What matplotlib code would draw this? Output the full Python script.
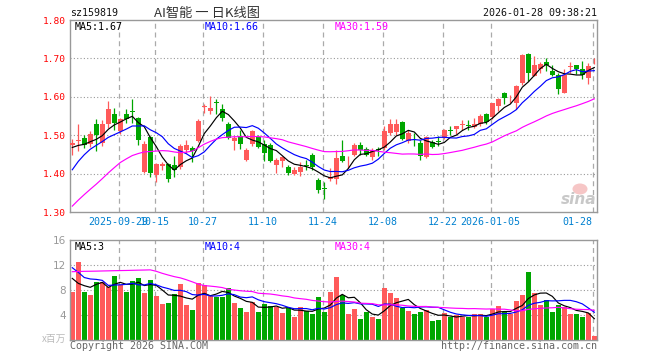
import matplotlib
matplotlib.use('Agg')
import matplotlib.pyplot as plt
import matplotlib.patches as mpatches
import numpy as np
import pandas as pd

# Daily bars 2025-09-17 .. 2026-01-28 (88 sessions)
opens = [1.475, 1.485, 1.494, 1.478, 1.528, 1.480, 1.528, 1.556, 1.510, 1.556,
         1.563, 1.545, 1.405, 1.495, 1.397, 1.421, 1.425, 1.423, 1.418, 1.462,
         1.466, 1.484, 1.574, 1.562, 1.586, 1.569, 1.530, 1.484, 1.499, 1.436,
         1.478, 1.495, 1.478, 1.475, 1.423, 1.432, 1.417, 1.398, 1.405, 1.422,
         1.449, 1.384, 1.363, 1.385, 1.385, 1.446, 1.437, 1.449, 1.475, 1.464,
         1.442, 1.465, 1.466, 1.507, 1.508, 1.534, 1.484, 1.491, 1.480, 1.443,
         1.481, 1.485, 1.493, 1.514, 1.516, 1.527, 1.526, 1.521, 1.528, 1.554,
         1.548, 1.577, 1.611, 1.593, 1.585, 1.637, 1.711, 1.655, 1.672, 1.690,
         1.668, 1.656, 1.611, 1.678, 1.683, 1.672, 1.650, 1.692]
highs = [1.491, 1.530, 1.501, 1.510, 1.541, 1.539, 1.589, 1.571, 1.545, 1.569,
         1.595, 1.547, 1.486, 1.497, 1.427, 1.431, 1.427, 1.445, 1.478, 1.488,
         1.473, 1.541, 1.580, 1.603, 1.595, 1.580, 1.534, 1.497, 1.514, 1.466,
         1.513, 1.501, 1.488, 1.480, 1.440, 1.446, 1.423, 1.418, 1.431, 1.436,
         1.453, 1.388, 1.379, 1.414, 1.462, 1.487, 1.446, 1.480, 1.481, 1.469,
         1.466, 1.469, 1.525, 1.542, 1.543, 1.536, 1.514, 1.506, 1.488, 1.497,
         1.488, 1.497, 1.516, 1.525, 1.525, 1.539, 1.539, 1.545, 1.556, 1.558,
         1.584, 1.597, 1.613, 1.604, 1.630, 1.711, 1.714, 1.705, 1.690, 1.700,
         1.683, 1.663, 1.672, 1.690, 1.683, 1.694, 1.688, 1.700]
lows = [1.449, 1.458, 1.466, 1.469, 1.458, 1.471, 1.519, 1.514, 1.504, 1.532,
        1.532, 1.475, 1.401, 1.392, 1.379, 1.410, 1.379, 1.392, 1.412, 1.453,
        1.429, 1.481, 1.558, 1.556, 1.554, 1.536, 1.490, 1.462, 1.464, 1.434,
        1.473, 1.466, 1.432, 1.429, 1.401, 1.417, 1.397, 1.397, 1.394, 1.410,
        1.410, 1.349, 1.333, 1.382, 1.373, 1.429, 1.414, 1.445, 1.449, 1.445,
        1.436, 1.445, 1.462, 1.501, 1.501, 1.487, 1.480, 1.473, 1.436, 1.440,
        1.466, 1.471, 1.490, 1.501, 1.504, 1.514, 1.513, 1.519, 1.525, 1.528,
        1.542, 1.562, 1.580, 1.583, 1.567, 1.630, 1.642, 1.653, 1.663, 1.668,
        1.655, 1.607, 1.609, 1.663, 1.659, 1.646, 1.633, 1.685]
closes = [1.480, 1.487, 1.474, 1.504, 1.501, 1.528, 1.569, 1.532, 1.541, 1.543,
          1.561, 1.487, 1.478, 1.401, 1.425, 1.424, 1.385, 1.410, 1.473, 1.475,
          1.460, 1.536, 1.577, 1.571, 1.583, 1.545, 1.493, 1.494, 1.478, 1.462,
          1.510, 1.469, 1.453, 1.432, 1.436, 1.443, 1.401, 1.410, 1.418, 1.419,
          1.417, 1.356, 1.361, 1.392, 1.440, 1.434, 1.439, 1.475, 1.462, 1.449,
          1.462, 1.462, 1.510, 1.528, 1.528, 1.490, 1.507, 1.489, 1.445, 1.495,
          1.469, 1.483, 1.513, 1.512, 1.523, 1.529, 1.524, 1.528, 1.551, 1.534,
          1.583, 1.595, 1.598, 1.595, 1.628, 1.709, 1.663, 1.683, 1.685, 1.683,
          1.656, 1.620, 1.656, 1.680, 1.672, 1.656, 1.679, 1.694]
volumes = [7.73, 12.53, 7.73, 7.20, 9.33, 9.33, 8.43, 10.24, 8.80, 7.73,
           9.49, 9.97, 7.57, 9.60, 7.09, 5.76, 5.97, 7.36, 8.96, 5.60,
           4.80, 9.17, 8.80, 7.04, 6.93, 6.93, 8.32, 5.97, 5.17, 4.53,
           6.13, 4.53, 5.76, 5.44, 5.33, 4.37, 5.07, 3.73, 5.33, 4.64,
           4.16, 6.93, 4.53, 7.73, 10.13, 7.20, 4.16, 4.96, 3.36, 4.53,
           3.73, 3.36, 8.37, 7.57, 6.77, 5.07, 4.69, 4.16, 4.53, 4.80,
           3.09, 3.20, 4.37, 3.73, 4.00, 3.73, 3.73, 4.16, 4.16, 3.73,
           4.91, 5.44, 4.53, 4.16, 6.29, 7.20, 10.93, 7.47, 5.60, 6.40,
           4.53, 5.60, 5.23, 4.16, 4.16, 3.73, 4.37, 0.64]

# 29 sessions before the window (estimated from the MA lines), needed for the moving averages
hist_close = [1.02, 1.04, 1.09, 1.10, 1.10, 1.12, 1.12, 1.14, 1.26, 1.30,
              1.33, 1.35, 1.37, 1.39, 1.39, 1.41, 1.49, 1.53, 1.43, 1.38,
              1.27, 1.30, 1.36, 1.40, 1.43, 1.46, 1.46, 1.47, 1.47]
hist_vol = [11.5, 7.0, 6.8, 8.8, 8.6, 7.8, 9.5, 8.2, 7.2, 8.8,
            9.2, 7.0, 8.8, 14.0, 15.5, 14.2, 15.0, 14.8, 14.5, 15.0,
            20.0, 16.0, 9.5, 10.0, 10.9, 16.5, 9.6, 8.5, 6.96]

tick_idx = [8, 14, 22, 32, 42, 52, 62, 70, 87]
tick_lbl = ['2025-09-29', '10-15', '10-27', '11-10', '11-24', '12-08', '12-22', '2026-01-05', '01-28']

RED = '#ff5a5a'
GREEN = '#00a600'
GRID = '#aaaaaa'
MONO = 'DejaVu Sans Mono'
W, H = 660, 360


def fx(px):
    return px / W


def fy(py):
    return 1 - py / H


n = len(closes)
x = np.arange(n)
o, h, l, c = map(np.array, (opens, highs, lows, closes))
v = np.array(volumes)
up = c >= o
cols = np.where(up, RED, GREEN)

cs = pd.Series(hist_close + closes)
vs = pd.Series(hist_vol + volumes)
ma = {k: cs.rolling(k).mean().values[-n:] for k in (5, 10, 30)}
vma = {k: vs.rolling(k).mean().values[-n:] for k in (5, 10, 30)}
ma_cols = {5: 'black', 10: '#0000ff', 30: '#ff00ff'}

fig = plt.figure(figsize=(6.6, 3.6), dpi=100)
fig.patch.set_facecolor('white')
ax = fig.add_axes([fx(70), fy(212), fx(597) - fx(70), (212 - 20) / H])
axv = fig.add_axes([fx(70), fy(340), fx(597) - fx(70), 100 / H])

xlo, xhi = -0.38, 87.45
grid_x = [i - 0.27 for i in tick_idx]

for a in (ax, axv):
    a.set_xlim(xlo, xhi)
    for s in a.spines.values():
        s.set_color('#999999')
        s.set_linewidth(1.0)
    for gx in grid_x:
        a.axvline(gx, color=GRID, lw=0.9, ls=(0, (4, 3)), zorder=0)
    a.tick_params(length=0)

# price panel
ax.set_ylim(1.30, 1.80)
for yy in (1.4, 1.5, 1.6, 1.7):
    ax.axhline(yy, color='#999999', lw=0.8, ls=(0, (1, 2)), zorder=0)
ax.vlines(x, l, h, colors=cols, lw=0.9, zorder=2)
body = np.maximum(np.abs(c - o), 0.0012)
ax.bar(x, body, bottom=np.minimum(o, c), width=0.78, color=cols, linewidth=0, zorder=3)
for k in (5, 10, 30):
    ax.plot(x, ma[k], color=ma_cols[k], lw=0.85, zorder=4)

ax.set_yticks([1.3, 1.4, 1.5, 1.6, 1.7, 1.8])
ax.set_yticklabels(['1.30', '1.40', '1.50', '1.60', '1.70', '1.80'],
                   color='#ff0000', fontsize=6.8, family=MONO)
ax.tick_params(axis='y', pad=3)
ax.set_xticks(grid_x)
ax.set_xticklabels(tick_lbl, color='#0080d0', fontsize=7.2, family=MONO)
ax.tick_params(axis='x', pad=3.5)
ax.get_xticklabels()[-1].set_horizontalalignment('right')

# volume panel
axv.set_ylim(0, 16)
for yy in (4, 8, 12):
    axv.axhline(yy, color='#999999', lw=0.8, ls=(0, (1, 2)), zorder=0)
axv.bar(x, v, width=0.78, color=cols, linewidth=0, zorder=2)
for k in (5, 10, 30):
    axv.plot(x, vma[k], color=ma_cols[k], lw=0.85, zorder=4)
axv.set_yticks([4, 8, 12, 16])
axv.set_yticklabels(['4', '8', '12', '16'], color='#999999', fontsize=7.5)
axv.tick_params(axis='y', pad=3)
axv.set_xticks([])


def trunc(val, d):
    f = 10 ** d
    return np.floor(val * f + 1e-9) / f


# header texts
fig.text(fx(70), fy(13), 'sz159819', fontsize=7.2, family=MONO, color='#111111', va='center')
fig.text(fx(207), fy(13), 'AI智能 一 日K线图', fontsize=9.5,
         family=['Noto Sans CJK SC', 'DejaVu Sans'], color='#333333', ha='center', va='center')
fig.text(fx(597), fy(13), '2026-01-28 09:38:21', fontsize=7.2, family=MONO,
         color='#111111', ha='right', va='center')

for k, px in ((5, 75), (10, 205), (30, 335)):
    fig.text(fx(px), fy(27), 'MA%d:%.2f' % (k, trunc(ma[k][-1], 2)), fontsize=7.2,
             family=MONO, color=ma_cols[k], va='center')
    fig.text(fx(px), fy(247), 'MA%d:%d' % (k, int(trunc(vma[k][-1], 0))), fontsize=7.2,
             family=MONO, color=ma_cols[k], va='center')

fig.text(fx(66), fy(339), 'x百万', fontsize=7, family=['Noto Sans CJK SC', 'DejaVu Sans'],
         color='#bbbbbb', ha='right', va='center')
fig.text(fx(70), fy(346), 'Copyright 2026 SINA.COM', fontsize=7.2, family=MONO,
         color='#666666', va='center')
fig.text(fx(597), fy(346), 'http://finance.sina.com.cn', fontsize=7.2, family=MONO,
         color='#666666', ha='right', va='center')

# sina watermark
fig.patches.append(mpatches.Ellipse((fx(580), fy(189)), 15 / W, 11 / H, transform=fig.transFigure,
                                    facecolor='#f6c6c6', edgecolor='none', zorder=5))
fig.text(fx(596), fy(200), 'sina', fontsize=11, style='italic', weight='bold',
         color='#c8c8c8', ha='right', va='center', zorder=6)

fig.savefig('out.png', dpi=100, facecolor='white')
